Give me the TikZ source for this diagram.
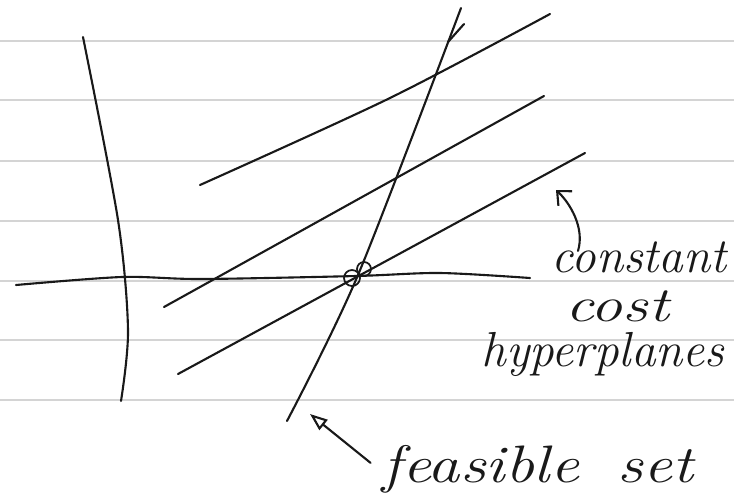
\documentclass[tikz,border=0pt]{standalone}
\usepackage{fontspec}
\usepackage{tikz}
\usetikzlibrary{arrows.meta}
\definecolor{ink}{RGB}{25,25,25}
\definecolor{paperline}{RGB}{212,212,212}

\begin{document}
\begin{tikzpicture}[x=0.02cm,y=-0.02cm,>={Straight Barb[length=2.2mm,width=4mm]},
    pen/.style={draw=ink,line width=1.2pt,line cap=round,line join=round},
    lab/.style={anchor=base,inner sep=0pt,text=ink,font=\fontsize{28}{32}\selectfont\itshape\addfontfeatures{LetterSpace=8}}]
    \useasboundingbox (0,0) rectangle (734,498);
    \fill[white] (0,0) rectangle (734,498);
    % ruled paper
    \foreach \y in {41,100,161,221,281,340,400}
      \draw[paperline,line width=1.5pt] (0,\y) -- (734,\y);
    % axes and constraint
    \draw[pen] plot[smooth,tension=0.5] coordinates {(83,37) (118,220) (128,330) (121,401)};
    \draw[pen] plot[smooth,tension=0.5] coordinates {(16,285) (122,277) (201,279) (356,276) (440,273) (530,278)};
    \draw[pen] plot[smooth,tension=0.5] coordinates {(287,421) (358,275) (461,8)};
    \draw[pen] (448,42) -- (464,24);
    % constant cost lines
    \draw[pen] plot[smooth,tension=0.5] coordinates {(200,185) (390,98) (550,14)};
    \draw[pen] (164,307) -- (544,96);
    \draw[pen] (178,374) -- (585,153);
    % optimum
    \coordinate (opt) at (358,275);
    \draw[pen,line width=1pt] ([shift={(-6,3)}]opt) circle[radius=8];
    \draw[pen,line width=1pt] ([shift={(6,-6)}]opt) circle[radius=7];
    % labels
    \node[lab] (l1) at (639,272) {constant};
    \node[lab] (l2) at (617,321) {\scalebox{1.3}[1]{cost}};
    \node[lab] (l3) at (603,366) {hyperplanes};
    \node[lab,font=\fontsize{30}{34}\selectfont\itshape] (fs) at (538,482) {\scalebox{1.22}[1]{feasible\hspace{0.6em}set}};
    \coordinate (ctip) at (556,190);
    \coordinate (ftip) at (310,414);
    \draw[pen,->] ([shift={(-61,10)}]l1.north) .. controls (585,228) and (570,203) .. (ctip);
    \draw[pen,->,>={Triangle[open,length=3.5mm,width=2.6mm]}] ([shift={(-12,-6)}]fs.west) -- (ftip);
\end{tikzpicture}
\end{document}
